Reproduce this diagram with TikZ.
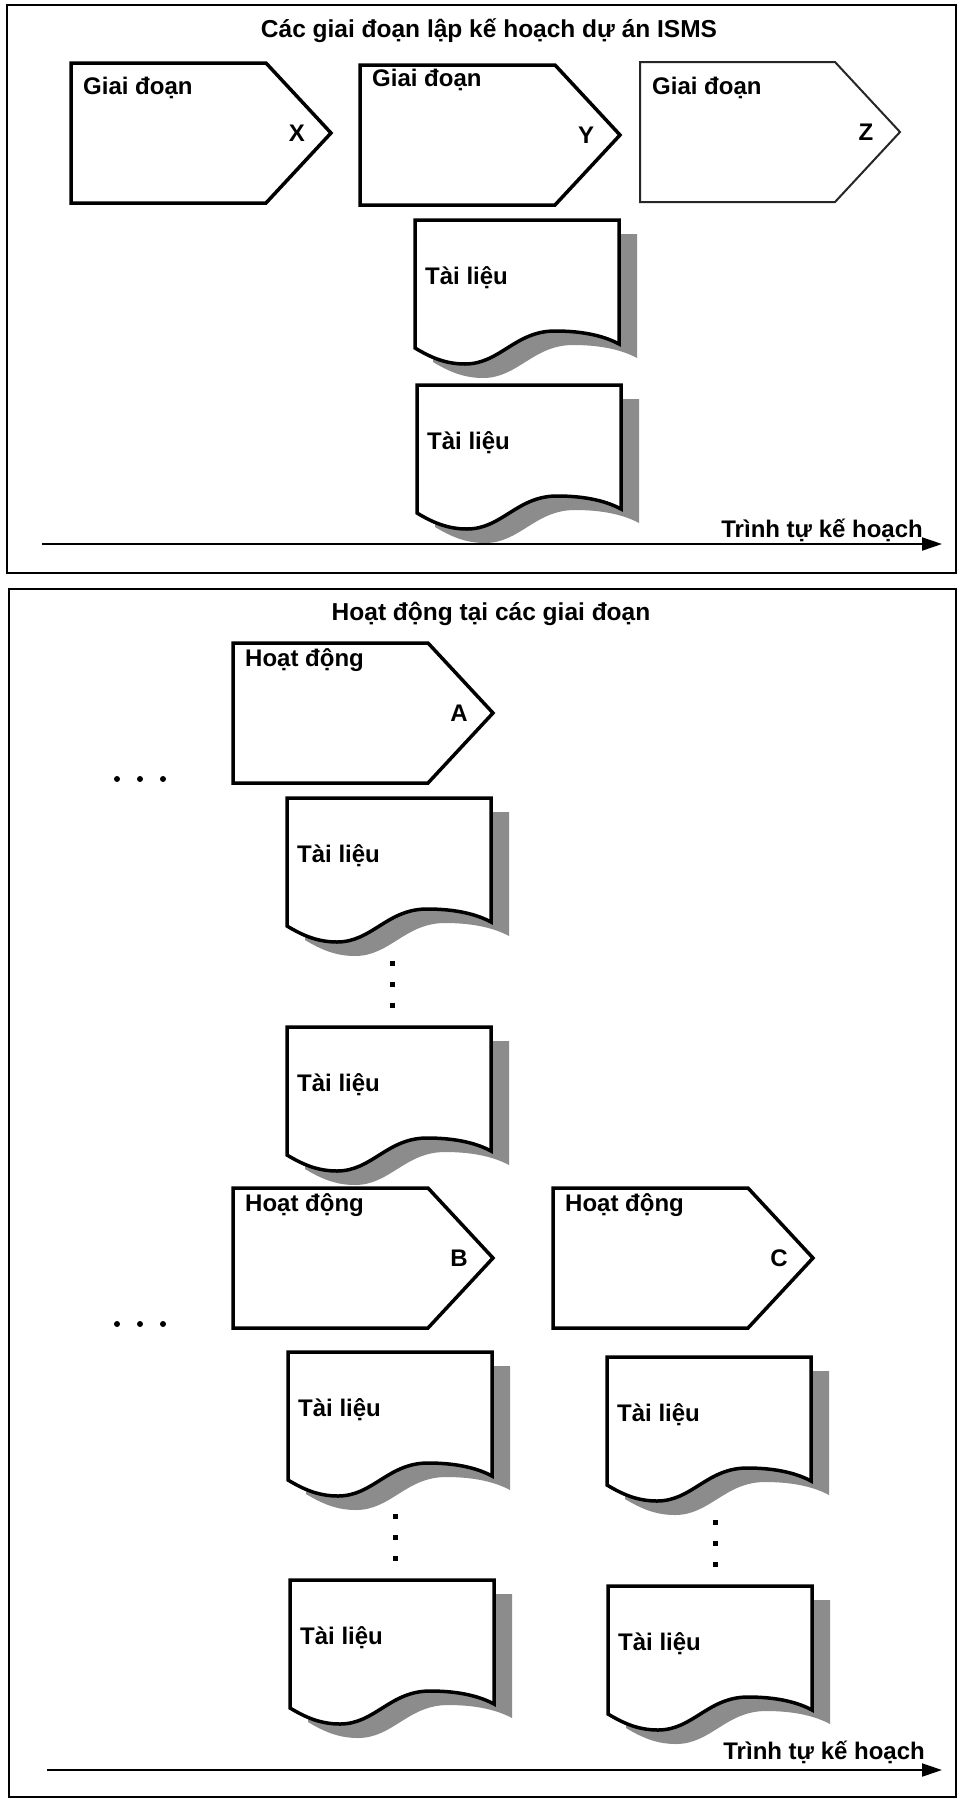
\documentclass[tikz,border=0pt]{standalone}
\usepackage{fontspec}
\setmainfont{Liberation Sans}
\usetikzlibrary{arrows.meta}
\tikzset{
  lbl/.style={font=\fontsize{24}{28}\selectfont\bfseries, inner sep=0pt},
  ttl/.style={font=\fontsize{24.5}{29}\selectfont\bfseries, inner sep=0pt},
  pent/.style={draw=black, line width=3.5pt, line join=miter, fill=white},
  pentthin/.style={line width=2pt, draw=black!85},
  docline/.style={draw=black, line width=3.5pt, fill=white, line join=miter},
  docshadow/.style={fill=black!45},
  framebox/.style={draw=black, line width=1.6pt},
  axis/.style={draw=black, line width=2pt, -{Triangle[length=20pt,width=13pt]}},
  hdot/.style={circle, fill=black, inner sep=0pt, minimum size=6pt},
  vdot/.style={rectangle, fill=black, inner sep=0pt, minimum size=5pt},
}
% #1 name, #2 x, #3 y, #4 text, #5 letter, #6 text y offset, #7 extra style
\newcommand\stagebox[7]{%
  \draw[pent,#7] (#2,#3) -- ++(195,0) -- ++(65,70) -- ++(-65,70) -- ++(-195,0) -- cycle;
  \node[lbl,anchor=west] (#1t) at ({#2+12},{#3+#6}) {#4};
  \node[lbl] (#1l) at ({#2+226},{#3+70}) {#5};
}
% #1 name, #2 x, #3 y
\newcommand\docbox[3]{%
  \begin{scope}[shift={(#2,#3)}]
  \fill[docshadow] (18,14) -- (222,14) -- (222,138) .. controls (209,131) and (189,125) .. (158,125) .. controls (118,125) and (103,158) .. (68,158) .. controls (48,158) and (33,151) .. (18,142) -- cycle;
  \draw[docline] (0,0) -- (204,0) -- (204,124) .. controls (191,117) and (171,111) .. (140,111) .. controls (100,111) and (85,144) .. (50,144) .. controls (30,144) and (15,137) .. (0,128) -- cycle;
  \node[lbl,anchor=west] (#1) at (10,58) {Tài liệu};
  \end{scope}
}
% #1 name prefix, #2 x, #3 y of first dot
\newcommand\coldots[3]{%
  \node[vdot] (#1a) at (#2,#3) {};
  \node[vdot] (#1b) at (#2,{#3+21}) {};
  \node[vdot] (#1c) at (#2,{#3+42}) {};
}
\newcommand\rowdots[3]{%
  \node[hdot] (#1a) at (#2,#3) {};
  \node[hdot] (#1b) at ({#2+23},#3) {};
  \node[hdot] (#1c) at ({#2+46},#3) {};
}
\begin{document}
\begin{tikzpicture}[x=1pt,y=-1pt]
\useasboundingbox (0,0) rectangle (960,1799);
\fill[white] (0,0) rectangle (960,1799);

% ---------- top panel ----------
\draw[framebox] (7,5) rectangle (956,573);
\node[ttl,anchor=base] (title1) at (489,37) {Các giai đoạn lập kế hoạch dự án ISMS};
\stagebox{X}{71}{63}{Giai đoạn}{X}{25}{}
\stagebox{Y}{360}{65}{Giai đoạn}{Y}{15}{}
\stagebox{Z}{640}{62}{Giai đoạn}{Z}{26}{pentthin}
\docbox{docT1}{415}{220}
\docbox{docT2}{417}{385}
\coordinate (axs1) at (42,544);
\coordinate (axe1) at (942,544);
\draw[axis] (axs1) -- (axe1);
\node[lbl,anchor=base east] (seq1) at (923,537) {Trình tự kế hoạch};

% ---------- bottom panel ----------
\draw[framebox] (9,589) rectangle (956,1797);
\node[ttl,anchor=base] (title2) at (491,620) {Hoạt động tại các giai đoạn};
\stagebox{A}{233}{643}{Hoạt động}{A}{17}{}
\rowdots{dotsA}{117}{779}
\docbox{docA1}{287}{798}
\coldots{vA}{392}{963}
\docbox{docA2}{287}{1027}

\stagebox{B}{233}{1188}{Hoạt động}{B}{17}{}
\stagebox{C}{553}{1188}{Hoạt động}{C}{17}{}
\rowdots{dotsB}{117}{1324}
\docbox{docB1}{288}{1352}
\coldots{vB}{395}{1516}
\docbox{docB2}{290}{1580}
\docbox{docC1}{607}{1357}
\coldots{vC}{715}{1522}
\docbox{docC2}{608}{1586}

\coordinate (axs2) at (47,1770);
\coordinate (axe2) at (942,1770);
\draw[axis] (axs2) -- (axe2);
\node[lbl,anchor=base east] (seq2) at (925,1759) {Trình tự kế hoạch};
\end{tikzpicture}
\end{document}
